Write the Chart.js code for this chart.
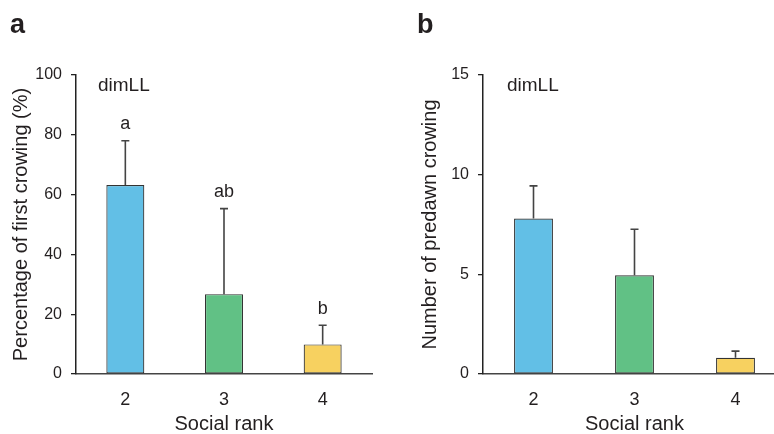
<!DOCTYPE html>
<html>
<head>
<meta charset="utf-8">
<script src="https://cdn.jsdelivr.net/npm/chart.js@4.4.1/dist/chart.umd.min.js"></script>
<style>
  html, body { margin: 0; padding: 0; background: #fff; }
  body { width: 774px; height: 434px; overflow: hidden; position: relative; }
  canvas { position: absolute; top: 0; }
  #chartA { left: 0; }
  #chartB { left: 400px; }
</style>
</head>
<body>
<canvas id="chartA" width="390" height="434"></canvas>
<canvas id="chartB" width="386" height="434"></canvas>
<script>
// values
const socialRanks = ["2", "3", "4"];
const firstCrowingPct = [63.2, 26.7, 9.9];
const firstCrowingErr = [14.8, 28.6, 6.4];
const firstCrowingLetters = ["a", "ab", "b"];
const predawnCount = [7.8, 4.95, 0.81];
const predawnErr = [1.64, 2.31, 0.34];
const pctTicks = [0, 20, 40, 60, 80, 100];
const countTicks = [0, 5, 10, 15];

const barColors = ["#62bfe6", "#61c185", "#f7d160"];
const FONT = "'Liberation Sans', Arial, sans-serif";
const INK = "#231f20";

Chart.defaults.font.family = FONT;
Chart.defaults.color = INK;

// error bars (upper only), significance letters, inner label, panel letter
function extrasPlugin(cfg) {
  return {
    id: "extras",
    afterDatasetsDraw(chart) {
      const ctx = chart.ctx;
      const y = chart.scales.y;
      const meta = chart.getDatasetMeta(0);
      const vals = chart.data.datasets[0].data;
      ctx.save();
      ctx.strokeStyle = "#444";
      ctx.lineWidth = 1.6;
      meta.data.forEach((bar, i) => {
        const top = y.getPixelForValue(vals[i] + cfg.err[i]);
        ctx.beginPath();
        ctx.moveTo(bar.x, bar.y);
        ctx.lineTo(bar.x, top);
        ctx.moveTo(bar.x - 4, top);
        ctx.lineTo(bar.x + 4, top);
        ctx.stroke();
        if (cfg.letters) {
          ctx.fillStyle = INK;
          ctx.font = "18px " + FONT;
          ctx.textAlign = "center";
          ctx.textBaseline = "alphabetic";
          ctx.fillText(cfg.letters[i], bar.x, top - 11.5);
        }
      });
      const area = chart.chartArea;
      ctx.fillStyle = INK;
      ctx.textAlign = "left";
      ctx.textBaseline = "alphabetic";
      ctx.font = "19px " + FONT;
      ctx.fillText("dimLL", area.left + cfg.tagDx, area.top + 16);
      ctx.font = "bold 27px " + FONT;
      ctx.fillText(cfg.panel, cfg.panelX, 33);
      ctx.restore();
    }
  };
}

function makeChart(id, values, ticks, maxY, yTitle, yWidth, titlePad, rightPad, plugin) {
  return new Chart(document.getElementById(id).getContext("2d"), {
    type: "bar",
    data: {
      labels: socialRanks,
      datasets: [{
        data: values,
        backgroundColor: barColors,
        borderColor: "#333",
        borderWidth: 1.2,
        borderSkipped: false,
        barPercentage: 0.385,
        categoryPercentage: 1
      }]
    },
    options: {
      responsive: false,
      animation: false,
      devicePixelRatio: 1,
      layout: { padding: { top: 75, right: rightPad, bottom: 0, left: 0 } },
      plugins: { legend: { display: false }, tooltip: { enabled: false } },
      scales: {
        x: {
          grid: { display: false },
          border: { display: true, color: "#444", width: 1.5 },
          ticks: { padding: 9, font: { size: 18, lineHeight: 1 }, color: INK },
          title: { display: true, text: "Social rank", font: { size: 20, lineHeight: 1 }, padding: 0, color: INK },
          afterFit: s => { s.height = 60; }
        },
        y: {
          min: 0,
          max: maxY,
          afterBuildTicks: s => { s.ticks = ticks.map(v => ({ value: v })); },
          grid: { display: true, drawOnChartArea: false, drawTicks: true, tickLength: 5, color: "#222", lineWidth: 1.3 },
          border: { display: true, color: "#222", width: 1.5 },
          ticks: { padding: 9, font: { size: 16, lineHeight: 1 }, color: INK },
          title: { display: true, text: yTitle, font: { size: 20, lineHeight: 1 }, padding: { top: titlePad, bottom: 0 }, color: INK },
          afterFit: s => { s.width = yWidth; }
        }
      }
    },
    plugins: [plugin]
  });
}

makeChart("chartA", firstCrowingPct, pctTicks, 100, "Percentage of first crowing (%)", 76, 11, 18,
  extrasPlugin({ err: firstCrowingErr, letters: firstCrowingLetters, tagDx: 22, panel: "a", panelX: 10 }));

makeChart("chartB", predawnCount, countTicks, 15, "Number of predawn crowing", 83, 20, 0,
  extrasPlugin({ err: predawnErr, letters: null, tagDx: 24, panel: "b", panelX: 17 }));
</script>
</body>
</html>
